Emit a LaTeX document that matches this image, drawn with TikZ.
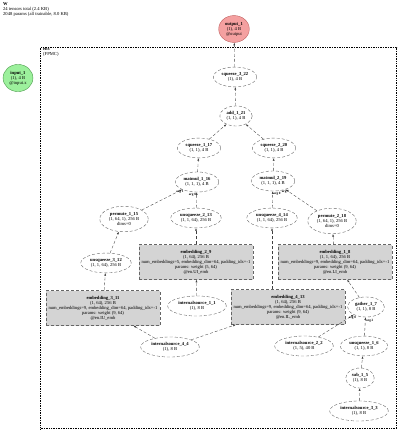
\documentclass[tikz,border=0pt]{standalone}
\usepackage{fontspec}
\setmainfont{Liberation Serif}
\usetikzlibrary{arrows.meta,positioning,shapes.geometric,calc}
\definecolor{outfill}{HTML}{F4A0A0}
\definecolor{outline}{HTML}{C06060}
\definecolor{infill}{HTML}{9CF09C}
\definecolor{inline}{HTML}{4C9C4C}
\begin{document}
\begin{tikzpicture}[x=1pt,y=-1pt,font=\fontsize{4.6}{5}\selectfont,
ell/.style={ellipse,draw=black!60,densely dashed,inner xsep=2pt,inner ysep=2.5pt,align=center},
emb/.style={draw=black!60,densely dashed,fill=black!17,align=center,minimum width=114pt,minimum height=35pt,inner sep=1pt},
arr/.style={-{Latex[length=2.6pt,width=1.9pt]},densely dashed,draw=black!75,line width=0.35pt},
elab/.style={font=\fontsize{3.3}{4}\selectfont\bfseries,inner sep=0.5pt},
cluster/.style={draw,dash pattern=on 1pt off 0.7pt,line width=1.3pt,inner sep=0pt}]
\useasboundingbox (0,0) rectangle (400,434);
\node[anchor=north west,align=left,inner sep=0pt] (title) at (3,2) {\textbf{W}\\24 tensors total (2.4 KB)\\2048 params (all trainable, 8.0 KB)};
\node[cluster,anchor=north west,minimum width=356pt,minimum height=381pt] (ens) at (40,47) {};
\node[anchor=north west,align=left,inner sep=0pt] (enslab) at (43,48.5) {\textbf{ens}\\(FPMC)};
\node[ell,solid,fill=outfill,draw=outline] (out) at (234,29) {\textbf{output\_1}\\(1), 4 B\\@output};
\node[ell,solid,fill=infill,draw=inline] (in) at (18,78) {\textbf{input\_1}\\(1), 4 B\\@input.x};
\node[ell] (sq322) at (235,77) {\textbf{squeeze\_3\_22}\\(1), 4 B};
\node[ell] (add) at (236,116) {\textbf{add\_1\_21}\\(1, 1), 4 B};
\node[ell] (sq117) at (199,148) {\textbf{squeeze\_1\_17}\\(1, 1), 4 B};
\node[ell] (sq220) at (274,148) {\textbf{squeeze\_2\_20}\\(1, 1), 4 B};
\node[ell] (mm116) at (197,182) {\textbf{matmul\_1\_16}\\(1, 1, 1), 4 B};
\node[ell] (mm219) at (273,181) {\textbf{matmul\_2\_19}\\(1, 1, 1), 4 B};
\node[ell] (perm115) at (124,219) {\textbf{permute\_1\_15}\\(1, 64, 1), 256 B\\dims=0};
\node[ell] (uq213) at (196,218) {\textbf{unsqueeze\_2\_13}\\(1, 1, 64), 256 B};
\node[ell] (uq414) at (272,218) {\textbf{unsqueeze\_4\_14}\\(1, 1, 64), 256 B};
\node[ell] (perm218) at (332,221) {\textbf{permute\_2\_18}\\(1, 64, 1), 256 B\\dims=0};
\node[emb] (emb29) at (196,262) {\textbf{embedding\_2\_9}\\(1, 64), 256 B\\num\_embeddings=5, embedding\_dim=64, padding\_idx=-1\\params: weight (5, 64)\\@en.UI\_emb};
\node[emb] (emb18) at (335,262) {\textbf{embedding\_1\_8}\\(1, 1, 64), 256 B\\num\_embeddings=9, embedding\_dim=64, padding\_idx=-1\\params: weight (9, 64)\\@en.LI\_emb};
\node[ell] (uq312) at (106,263) {\textbf{unsqueeze\_3\_12}\\(1, 1, 64), 256 B};
\node[emb] (emb311) at (103,308) {\textbf{embedding\_3\_11}\\(1, 64), 256 B\\num\_embeddings=9, embedding\_dim=64, padding\_idx=-1\\params: weight (9, 64)\\@en.IU\_emb};
\node[ell] (is11) at (197,306) {\textbf{internalsource\_1\_1}\\(1), 8 B};
\node[emb] (emb413) at (288,307) {\textbf{embedding\_4\_13}\\(1, 64), 256 B\\num\_embeddings=9, embedding\_dim=64, padding\_idx=-1\\params: weight (9, 64)\\@en.IL\_emb};
\node[ell] (gat) at (366,307) {\textbf{gather\_1\_7}\\(1, 1), 8 B};
\node[ell] (is44) at (170,347) {\textbf{internalsource\_4\_4}\\(1), 8 B};
\node[ell] (is22) at (304,346) {\textbf{internalsource\_2\_2}\\(1, 5), 40 B};
\node[ell] (uq16) at (364,346) {\textbf{unsqueeze\_1\_6}\\(1, 1), 8 B};
\node[ell] (sub) at (360,378) {\textbf{sub\_1\_5}\\(1), 8 B};
\node[ell] (is33) at (359,411) {\textbf{internalsource\_3\_3}\\(1), 8 B};
\draw[arr] (sq322)--(out); \draw[arr] (add)--(sq322); \draw[arr] (sq117)--(add); \draw[arr] (sq220)--(add);
\draw[arr] (mm116)--(sq117); \draw[arr] (mm219)--(sq220);
\draw[arr] (perm115)--(mm116) node[elab,pos=1,below left=0pt and -2pt] {arg 1};
\draw[arr] (uq213)--(mm116) node[elab,pos=1,below left=0.5pt and 0pt] {arg 0};
\draw[arr] (uq414)--(mm219) node[elab,pos=1,below right=0.5pt and 0pt] {arg 0};
\draw[arr] (perm218)--(mm219) node[elab,pos=1,below=0.5pt] {arg 1};
\draw[arr] (uq312)--(perm115); \draw[arr] (emb29)--(uq213); \draw[arr] (emb18)--(perm218);
\draw[arr] (emb413.north -| uq414)--(uq414); \draw[arr] (emb311)--(uq312); \draw[arr] (is11)--(emb29);
\draw[arr] (is44)--(emb311); \draw[arr] (is44)--(emb413); \draw[arr] (gat)--(emb18);
\draw[arr] (is22)--(gat) node[elab,pos=1,below left=1pt and -3pt] {arg 0};
\draw[arr] (uq16)--(gat) node[elab,pos=1,below right=1pt and 0pt] {arg 2};
\draw[arr] (sub)--(uq16); \draw[arr] (is33)--(sub);
\end{tikzpicture}
\end{document}
